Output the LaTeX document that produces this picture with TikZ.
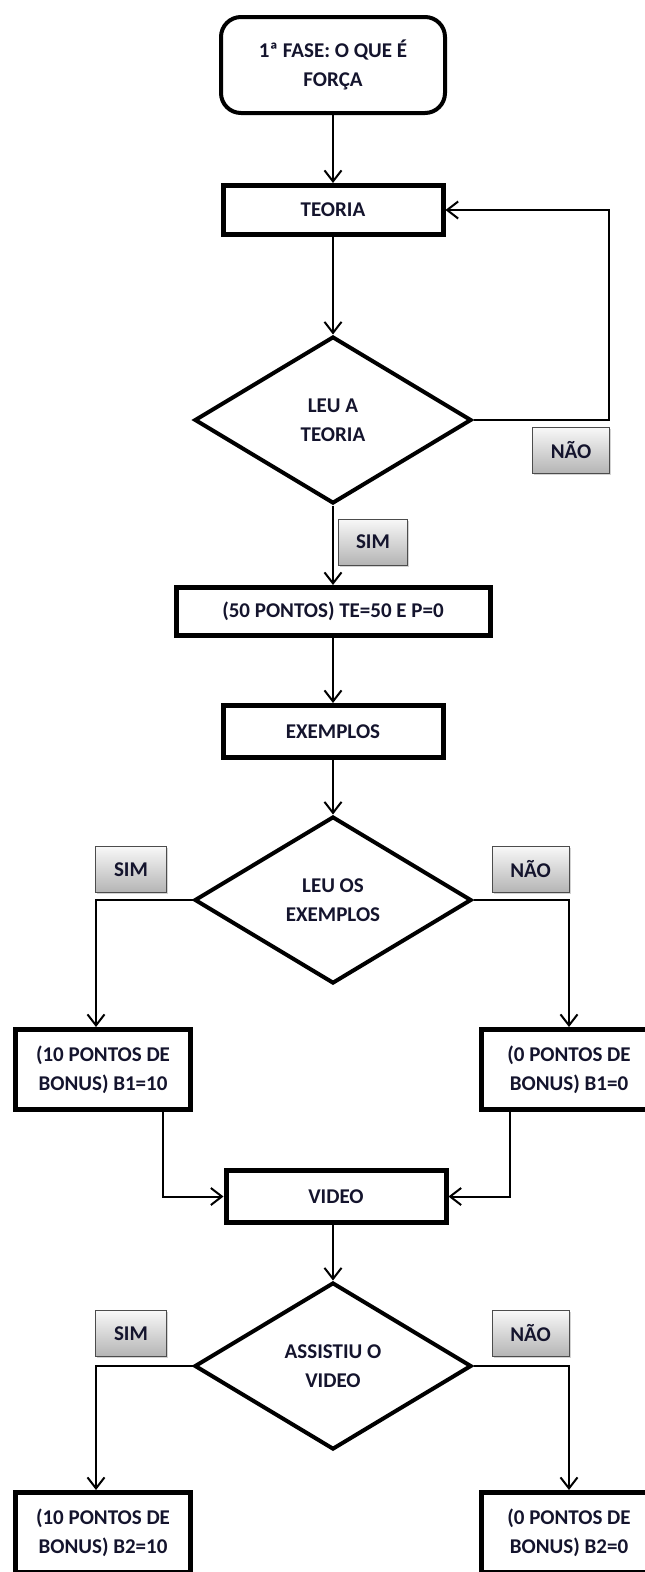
\documentclass[tikz,border=0pt]{standalone}
\usepackage{fontspec}
\setmainfont{Carlito}
\usetikzlibrary{shapes.geometric,arrows.meta,shadows}
\definecolor{tinta}{RGB}{20,20,45}
\definecolor{cinzaclaro}{RGB}{248,248,248}
\definecolor{cinzaescuro}{RGB}{180,180,180}

\begin{document}
\begin{tikzpicture}[x=1pt, y=-1pt,
        texto/.style={font=\fontsize{21}{29}\selectfont\bfseries, text=tinta, align=center},
        inicio/.style={texto, draw, line width=4pt, rounded corners=20pt, inner sep=0pt, minimum width=224pt, minimum height=96pt},
        caixa/.style={texto, draw, line width=5pt, rectangle, inner sep=0pt},
        decisao/.style={texto, draw, line width=4pt, diamond, inner sep=0pt, minimum width=277pt, minimum height=167pt},
        rotulo/.style={texto, draw=black!70, line width=1pt, top color=cinzaclaro, bottom color=cinzaescuro, minimum height=46pt, drop shadow={opacity=0.35, shadow xshift=1.5pt, shadow yshift=-1.5pt}},
        seta/.style={-{Straight Barb[length=11pt, width=17pt]}, line width=2pt}]
        \useasboundingbox (0, 0) rectangle (645, 1572);
        \node [inicio] (inicio) at (333, 65) {1ª FASE: O QUE É\\FORÇA};
        \begin{scope}[every node/.style={caixa}]
            \node [minimum width=220pt, minimum height=49pt] (teoria) at (333, 210) {TEORIA};
            \node [minimum width=314pt, minimum height=48pt] (pts50) at (333, 611.5) {(50 PONTOS) TE=50 E P=0};
            \node [minimum width=220pt, minimum height=52pt] (exemplos) at (333, 731.5) {EXEMPLOS};
            \node [minimum width=175pt, minimum height=80pt] (b1sim) at (103, 1069.5) {(10 PONTOS DE\\BONUS) B1=10};
            \node [minimum width=175pt, minimum height=80pt] (b1nao) at (569, 1069.5) {(0 PONTOS DE\\BONUS) B1=0};
            \node [minimum width=220pt, minimum height=52pt] (video) at (336, 1196.5) {VIDEO};
            \node [minimum width=175pt, minimum height=80pt] (b2sim) at (103, 1532.5) {(10 PONTOS DE\\BONUS) B2=10};
            \node [minimum width=175pt, minimum height=80pt] (b2nao) at (569, 1532.5) {(0 PONTOS DE\\BONUS) B2=0};
        \end{scope}
        \begin{scope}[every node/.style={decisao}]
            \node (d1) at (333, 420) {LEU A\\TEORIA};
            \node (d2) at (333, 900) {LEU OS\\EXEMPLOS};
            \node (d3) at (333, 1366) {ASSISTIU O\\VIDEO};
        \end{scope}
        \begin{scope}[every node/.style={rotulo}]
            \node [minimum width=77pt] (nao1) at (571, 450.5) {NÃO};
            \node [minimum width=69pt] (sim1) at (373, 542) {SIM};
            \node [minimum width=71pt] (sim2) at (131, 869.5) {SIM};
            \node [minimum width=77pt] (nao2) at (530.5, 869.5) {NÃO};
            \node [minimum width=71pt] (sim3) at (131, 1333.5) {SIM};
            \node [minimum width=77pt] (nao3) at (530.5, 1333.5) {NÃO};
        \end{scope}
        \coordinate (volta) at (609, 210);
        \path [seta] (inicio) edge (teoria);
        \path [seta] (teoria) edge (d1);
        \draw [seta] (d1.east) -| (volta) -- (teoria.east);
        \path [seta] (d1) edge (pts50);
        \path [seta] (pts50) edge (exemplos);
        \path [seta] (exemplos) edge (d2);
        \draw [seta] (d2.west) -| ([xshift=-7pt]b1sim.north);
        \draw [seta] (d2.east) -| (b1nao.north);
        \draw [seta] ([xshift=60pt]b1sim.south) |- (video.west);
        \draw [seta] ([xshift=-59pt]b1nao.south) |- (video.east);
        \draw [seta] (video.south -| d3.north) -- (d3.north);
        \draw [seta] (d3.west) -| ([xshift=-7pt]b2sim.north);
        \draw [seta] (d3.east) -| (b2nao.north);
    \end{tikzpicture}
\end{document}
